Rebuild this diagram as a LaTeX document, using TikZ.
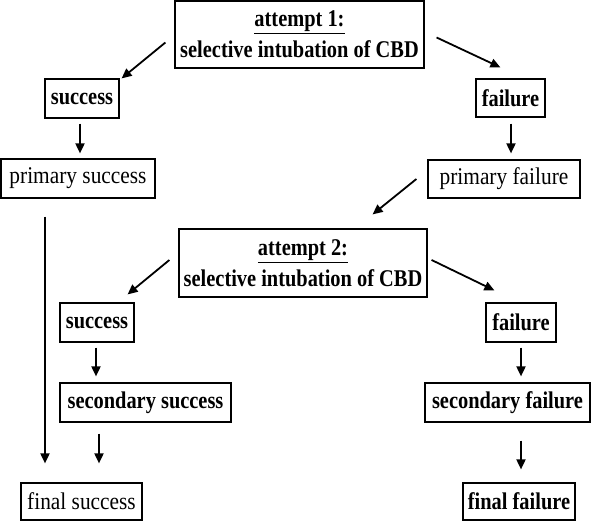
\documentclass[tikz,border=0pt]{standalone}
\usepackage{fontspec}
\setmainfont{Liberation Serif}
\newfontfamily\rmstretched[FakeStretch=0.89]{Liberation Serif}
\newfontfamily\bfstretched[FakeStretch=0.85]{Liberation Serif Bold}
\usetikzlibrary{arrows.meta,calc}
\begin{document}
\begin{tikzpicture}[x=1pt,y=-1pt,
  box/.style={draw,line width=1.2pt,inner sep=0pt,font=\rmstretched\fontsize{24}{27}\selectfont,align=center},
  bbox/.style={box,font=\bfstretched\fontsize{24}{27}\selectfont},
  arr/.style={line width=1.8pt,-{Triangle[length=10pt,width=9pt]}}]
\useasboundingbox (0,0) rectangle (592,521);
% boxes
\node[bbox,minimum width=249pt,minimum height=67pt] (A1) at (299.5,34.5) {\underline{attempt 1:}\\[4pt]selective intubation of CBD};
\node[bbox,minimum width=74pt,minimum height=39pt] (S1) at (82,98.5) {success};
\node[bbox,minimum width=69pt,minimum height=38pt] (F1) at (510.5,98) {failure};
\node[box,minimum width=154pt,minimum height=39pt] (PS) at (78,178.5) {primary success};
\node[box,minimum width=152pt,minimum height=38pt] (PF) at (504,179) {primary failure};
\node[bbox,minimum width=248pt,minimum height=68pt] (A2) at (303,263) {\underline{attempt 2:}\\[4pt]selective intubation of CBD};
\node[bbox,minimum width=74pt,minimum height=39pt] (S2) at (97,322.5) {success};
\node[bbox,minimum width=171pt,minimum height=39pt] (SS) at (145.5,402.5) {secondary success};
\node[box,minimum width=121pt,minimum height=37pt] (FS) at (81.5,501.5) {final success};
\node[bbox,minimum width=70pt,minimum height=39pt] (F2) at (521,322.5) {failure};
\node[bbox,minimum width=165pt,minimum height=39pt] (SF) at (507.5,402.5) {secondary failure};
\node[bbox,minimum width=112pt,minimum height=37pt] (FF) at (519,501.5) {final failure};
% arrows
\draw[arr] ($(A1.west)+(-9,8)$) -- ($(S1.north east)+(2,0)$);
\draw[arr] ($(A1.east)+(12,3)$) -- ($(F1.north west)+(25,-11)$);
\draw[arr] ($(S1.south)+(-2,5)$) -- ($(PS.north)+(2,-5)$);
\draw[arr] ($(F1.south)+(0.5,6)$) -- ($(PF.north)+(7,-6)$);
\draw[arr] ($(PF.west)+(-11,0)$) -- ($(A2.north east)+(-55,-14)$);
\draw[arr] ($(PS.south)+(-33,18)$) -- ($(FS.north)+(-36.5,-19)$);
\draw[arr] ($(A2.west)+(-9,-3)$) -- ($(S2.north east)+(-7,-8)$);
\draw[arr] ($(A2.east)+(4,-3)$) -- ($(F2.north west)+(9,-12)$);
\draw[arr] ($(S2.south)+(-1,5)$) -- ($(SS.north)+(-49.5,-6)$);
\draw[arr] ($(SS.south)+(-46.5,11)$) -- ($(FS.north)+(17.5,-19)$);
\draw[arr] ($(F2.south)+(0,5)$) -- ($(SF.north)+(13.5,-6)$);
\draw[arr] ($(SF.south)+(13.5,18)$) -- ($(FF.north)+(2,-13)$);
\end{tikzpicture}
\end{document}
